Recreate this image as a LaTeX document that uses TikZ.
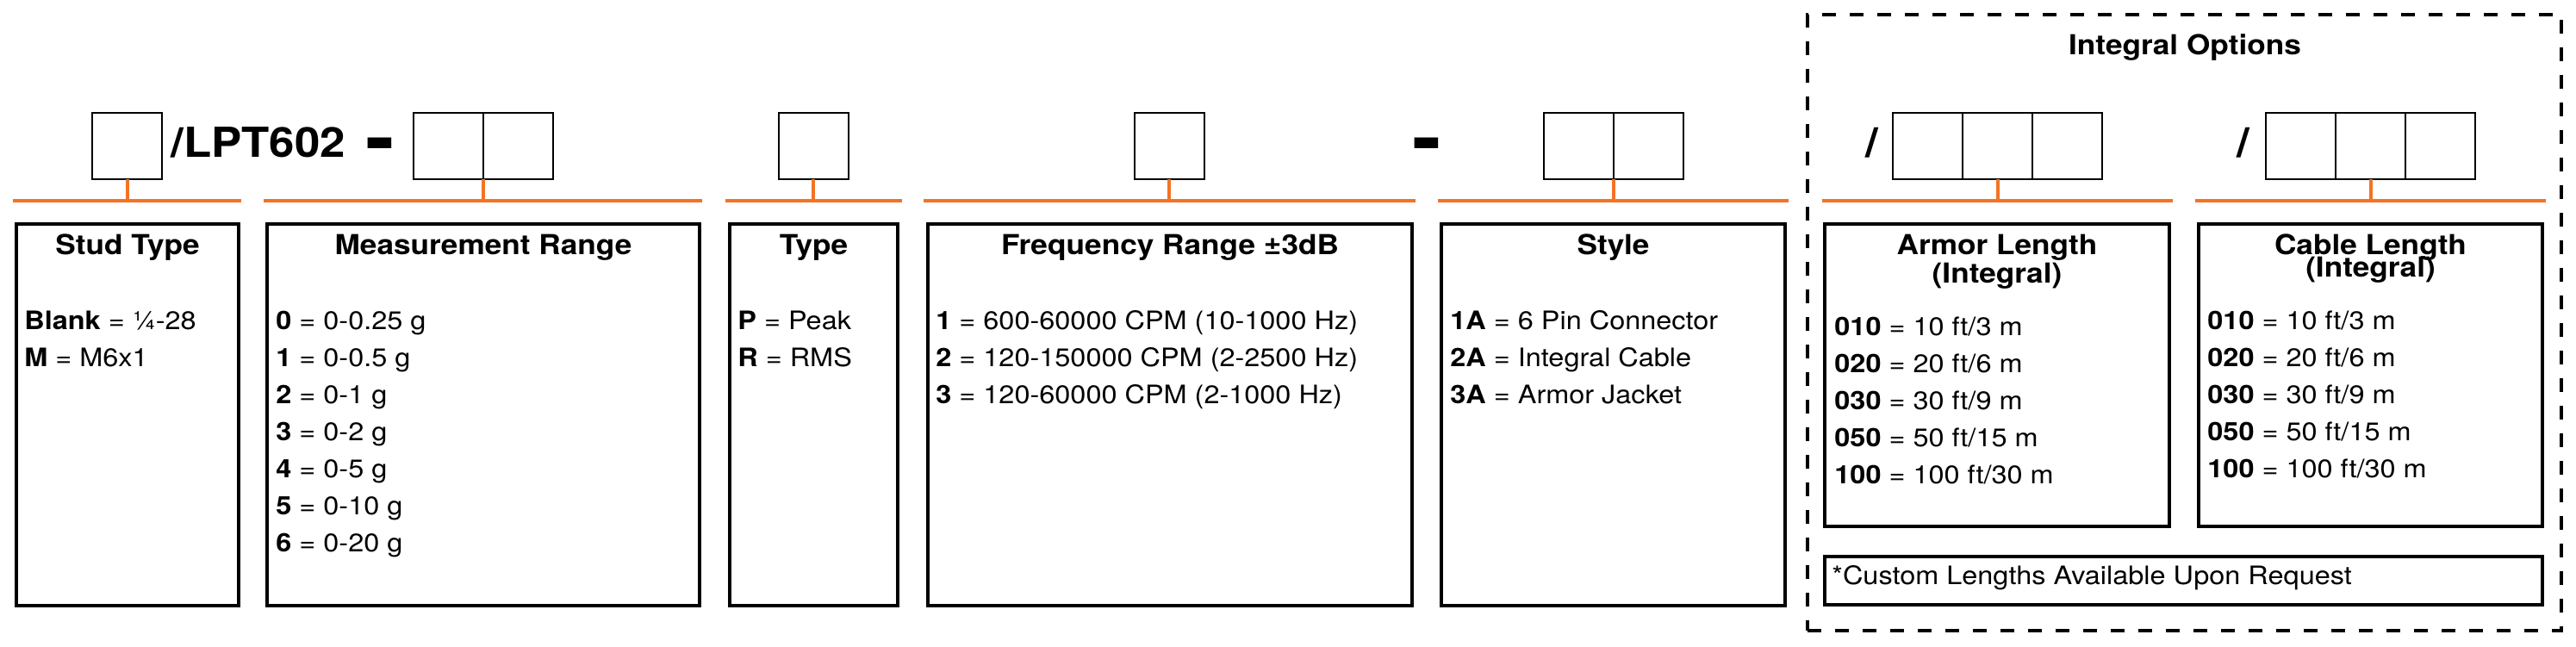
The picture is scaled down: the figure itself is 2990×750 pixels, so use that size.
\documentclass[tikz,border=0pt]{standalone}
\usepackage{fontspec}
\setmainfont{TeX Gyre Heros}[FakeStretch=1.1]
\usetikzlibrary{positioning}
\usetikzlibrary{fit}
\definecolor{barorange}{RGB}{243,115,36}
\tikzset{cell/.style={draw, line width=1pt, minimum width=40.5pt, minimum height=38.5pt, inner sep=0pt, outer sep=0pt}}
\tikzset{panel/.style={draw, line width=1.75pt, inner sep=0pt}}
\tikzset{bar/.style={barorange, line width=2pt}}
\tikzset{head/.style={anchor=base, inner sep=0pt, font=\fontsize{16}{19}\selectfont\bfseries}}
\tikzset{item/.style={anchor=base west, inner sep=0pt, font=\fontsize{14.75}{18}\selectfont}}
\tikzset{code/.style={inner sep=0pt, font=\fontsize{24}{28}\selectfont\bfseries}}
\tikzset{bigdash/.style={anchor=base, inner sep=0pt, font=\fontsize{46}{50}\selectfont\bfseries}}

\begin{document}
\begin{tikzpicture}[x=0.5pt, y=-0.5pt]
        \useasboundingbox (0,0) rectangle (2990,750);

        \node (pn) [code, anchor=base west] at (198,182) {/LPT602};
        \node (d1) [bigdash] at (441,191) {-};
        \node (d2) [bigdash] at (1656,191) {-};
        \node (s1) [code, anchor=base] at (2173,182) {/};
        \node (s2) [code, anchor=base] at (2604,182) {/};

        \node[cell] (stud-c) at (147.5,169) {};
        \node[cell] (meas-c1) at (520,169) {};
        \node[cell, right=0pt of meas-c1] (meas-c2) {};
        \node[cell] (type-c) at (944,169) {};
        \node[cell] (freq-c) at (1357,169) {};
        \node[cell] (style-c1) at (1832,169) {};
        \node[cell, right=0pt of style-c1] (style-c2) {};
        \node[cell] (armor-c1) at (2237.5,169) {};
        \node[cell, right=0pt of armor-c1] (armor-c2) {};
        \node[cell, right=0pt of armor-c2] (armor-c3) {};
        \node[cell] (cable-c1) at (2670.5,169) {};
        \node[cell, right=0pt of cable-c1] (cable-c2) {};
        \node[cell, right=0pt of cable-c2] (cable-c3) {};

        \foreach \n/\a/\b in {stud/15/280, meas/306/815, type/842/1047, freq/1072/1643, style/1669/2076, armor/2115/2522, cable/2548/2955} {
            \draw[bar] (\a,233) -- (\b,233);
            \coordinate (\n-bar) at ({(\a+\b)/2},233);
        }
        \draw[bar] (stud-c.south) -- (stud-c.south |- stud-bar);
        \draw[bar] (meas-c1.south east) -- (meas-c1.south east |- meas-bar);
        \draw[bar] (type-c.south) -- (type-c.south |- type-bar);
        \draw[bar] (freq-c.south) -- (freq-c.south |- freq-bar);
        \draw[bar] (style-c1.south east) -- (style-c1.south east |- style-bar);
        \draw[bar] (armor-c2.south) -- (armor-c2.south |- armor-bar);
        \draw[bar] (cable-c2.south) -- (cable-c2.south |- cable-bar);

        \foreach \n/\a/\b/\t in {stud/19/277/Stud Type, meas/310/812/Measurement Range, type/847/1042/Type, freq/1077/1639/Frequency Range ±3dB, style/1673/2072/Style} {
            \node[panel, fit={(\a,260) (\b,703)}] (\n) {};
            \node[head] (\n-head) at ({(\a+\b)/2},295) {\t};
        }
        \node[panel, fit={(2118,260) (2518,611)}] (armor) {};
        \node[panel, fit={(2552,260) (2951,611)}] (cable) {};
        \node[panel, fit={(2118,646) (2951,702)}] (custom) {};
        \node[head] (armor-head) at (2318,295) {Armor Length};
        \node[head] (armor-sub) at (2318,328) {(Integral)};
        \node[head] (cable-head) at (2751.5,295) {Cable Length};
        \node[head] (cable-sub) at (2751.5,321) {(Integral)};
        \node[item] (custom-text) at (2126,678) {*Custom Lengths Available Upon Request};

        \foreach \k/\txt [count=\i from 0] in {Blank/{¼-28}, M/M6x1}
            \node[item] (stud-\i) at (28,{382+43*\i}) {\textbf{\k} = \txt};
        \foreach \k/\txt [count=\i from 0] in {0/0-0.25 g, 1/0-0.5 g, 2/0-1 g, 3/0-2 g, 4/0-5 g, 5/0-10 g, 6/0-20 g}
            \node[item] (meas-\i) at (320,{382+43*\i}) {\textbf{\k} = \txt};
        \foreach \k/\txt [count=\i from 0] in {P/Peak, R/RMS}
            \node[item] (type-\i) at (856,{382+43*\i}) {\textbf{\k} = \txt};
        \foreach \k/\txt [count=\i from 0] in {1/{600-60000 CPM (10-1000 Hz)}, 2/{120-150000 CPM (2-2500 Hz)}, 3/{120-60000 CPM (2-1000 Hz)}}
            \node[item] (freq-\i) at (1086,{382+43*\i}) {\textbf{\k} = \txt};
        \foreach \k/\txt [count=\i from 0] in {1A/6 Pin Connector, 2A/Integral Cable, 3A/Armor Jacket}
            \node[item] (style-\i) at (1683,{382+43*\i}) {\textbf{\k} = \txt};
        \foreach \k/\txt [count=\i from 0] in {010/{10 ft/3 m}, 020/{20 ft/6 m}, 030/{30 ft/9 m}, 050/{50 ft/15 m}, 100/{100 ft/30 m}} {
            \node[item] (armor-\i) at (2129,{389+43*\i}) {\textbf{\k} = \txt};
            \node[item] (cable-\i) at (2562,{382+43*\i}) {\textbf{\k} = \txt};
        }

        \node[draw, line width=2pt, dash pattern=on 8pt off 8pt, inner sep=0pt, fit={(2098,17) (2973,732)}] (integral) {};
        \node[head] (integral-head) at (2536,63) {Integral Options};

    \end{tikzpicture}
\end{document}
